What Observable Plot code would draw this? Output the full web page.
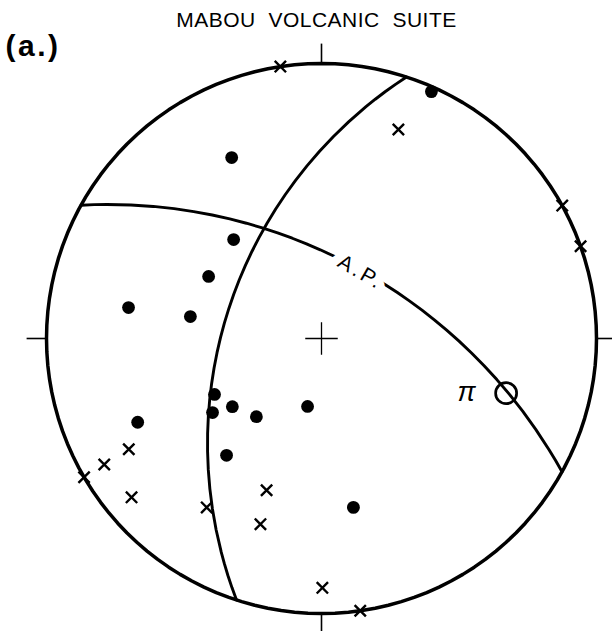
<!DOCTYPE html>
<html>
<head>
<meta charset="utf-8">
<script src="https://cdn.jsdelivr.net/npm/d3@7"></script>
<script src="https://cdn.jsdelivr.net/npm/@observablehq/plot@0.6"></script>
<style>
  body { margin: 0; background: #fff; }
</style>
</head>
<body>
<div id="chart"></div>
<script>
// Lower-hemisphere stereographic (Wulff) net.
// Directions are trend (degrees clockwise from north) and plunge (degrees below horizontal).

// Filled circles
const dotTrend  = [24, 333.6, 318.4, 298.8, 279.1, 279.5, 245.5, 242.4, 235.8, 232.6, 219.8, 191.6, 219.1, 169.3];
const dotPlunge = [1, 17.4, 38.6, 39.8, 19.2, 38.4, 17.4, 42.6, 38.8, 45.6, 49.4, 61.7, 32.6, 26.0];

// Crosses
const crossTrend  = [351.4, 20.2, 61.1, 70.4, 240.1, 239.9, 239.7, 230.1, 214.2, 199.9, 198.2, 179.8, 171.9];
const crossPlunge = [0, 12.0, 0, 0, 12.1, 5.2, 0, 6.0, 16.8, 29.2, 19.2, 5.6, 0];

// Great circles (planes): strike azimuth, dip direction, dip
const planeLabel  = ["", "A.P."];
const planeStrike = [18, 119];
const planeDipDir = [288, 29];
const planeDip    = [51, 58];

// Fold axis π
const piTrend = 106.5;
const piPlunge = 20;

// Cardinal ticks on the primitive circle
const compassTrend = [0, 90, 180, 270];

const title = "MABOU\u00a0\u00a0VOLCANIC\u00a0\u00a0SUITE";
const panel = "(a.)";

// trend/plunge -> longitude/latitude on a sphere whose north pole is the nadir
const lon = (t) => -t;

const dots = dotTrend.map((t, i) => ({t, p: dotPlunge[i]}));
const crosses = crossTrend.map((t, i) => ({t, p: crossPlunge[i]}));
const planes = planeStrike.map((s, i) => ({
  type: "LineString",
  coordinates: [[lon(s), 0], [lon(planeDipDir[i]), planeDip[i]], [lon(s + 180), 0]]
}));
const primitive = {
  type: "LineString",
  coordinates: [0, 90, 180, 270, 360].map((a) => [a, 0])
};

const chart = Plot.plot({
  width: 612,
  height: 631,
  marginLeft: 46,
  marginRight: 16,
  marginTop: 63,
  marginBottom: 18,
  style: {fontFamily: "'Liberation Sans', Arial, sans-serif", background: "#fff"},
  projection: {
    type: "stereographic",
    rotate: [180, -90],
    domain: d3.geoCircle().center([0, 90]).radius(90)(),
    clip: false
  },
  marks: [
    Plot.geo(planes, {stroke: "#000", strokeWidth: 2.9}),
    Plot.geo([primitive], {stroke: "#000", strokeWidth: 3.5}),
    Plot.link(compassTrend, {
      x1: (d) => lon(d), y1: () => 0,
      x2: (d) => lon(d), y2: () => -4,
      stroke: "#000", strokeWidth: 1.6
    }),
    Plot.dot([90], {x: () => 0, y: (d) => d, symbol: "plus", r: 10.5, stroke: "#000", strokeWidth: 1.3}),
    Plot.text(planeLabel.filter((d) => d), {
      x: () => lon(30), y: () => 58, rotate: 30, dy: 2,
      fontSize: 21, fill: "#000", stroke: "#fff", strokeWidth: 18,
      paintOrder: "stroke", strokeLinejoin: "round"
    }),
    Plot.dot(dots, {x: (d) => lon(d.t), y: "p", r: 6.4, fill: "#000"}),
    Plot.dot(crosses, {x: (d) => lon(d.t), y: "p", symbol: "times", r: 5.2, stroke: "#000", strokeWidth: 2.4}),
    Plot.dot([piPlunge], {x: () => lon(piTrend), y: (d) => d, r: 10.5, stroke: "#000", strokeWidth: 2.7, fill: "none"}),
    Plot.text(["π"], {x: () => lon(110.4), y: () => 31.3, fontSize: 27, fontStyle: "italic", fill: "#000"}),
    Plot.text([title], {frameAnchor: "top", dx: -5, dy: -37, lineAnchor: "bottom", fontSize: 21, fill: "#000"}),
    Plot.text([panel], {frameAnchor: "top-left", textAnchor: "start", dx: -41, dy: -8, lineAnchor: "bottom", fontSize: 30, fontWeight: "bold", fill: "#000"})
  ]
});

// Lettering spacing for the hand-lettered labels
d3.select(chart).selectAll("text").each(function () {
  const s = this.textContent;
  if (s === title) this.setAttribute("letter-spacing", "0.5");
  if (s === panel) this.setAttribute("letter-spacing", "2.5");
  if (s === "A.P.") this.setAttribute("letter-spacing", "3");
});

document.getElementById("chart").appendChild(chart);
</script>
</body>
</html>
